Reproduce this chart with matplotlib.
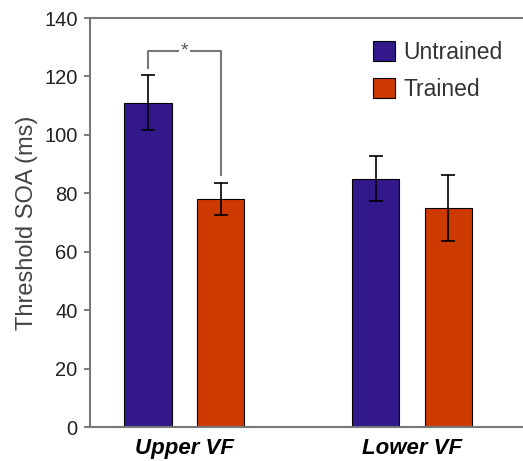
from matplotlib import pyplot as plt
import numpy as np

plt.rcParams['font.family'] = ['Liberation Sans', 'DejaVu Sans']

groups = ['Upper VF', 'Lower VF']
series = ['Untrained', 'Trained']
untrained = [111, 85]
untrained_err = [9.5, 7.7]
trained = [78, 75]
trained_err = [5.6, 11.2]
colors = ['#33188C', '#CC3A00']

x = np.arange(len(groups))
w = 0.207
off = 0.16

fig = plt.figure(figsize=(5.23, 4.61), dpi=100)
ax = fig.add_axes([90/523, 1 - 427/461, 433/523, 409/461])

ax.bar(x - off, untrained, w, color=colors[0], edgecolor='black', linewidth=0.8,
       label=series[0], zorder=2)
ax.bar(x + off, trained, w, color=colors[1], edgecolor='black', linewidth=0.8,
       label=series[1], zorder=2)
ax.errorbar(x - off, untrained, yerr=untrained_err, fmt='none', ecolor='black',
            elinewidth=1.2, capsize=5, capthick=1.2, zorder=3)
ax.errorbar(x + off, trained, yerr=trained_err, fmt='none', ecolor='black',
            elinewidth=1.2, capsize=5, capthick=1.2, zorder=3)

# significance bracket
bx = [x[0] - off, x[0] - off, x[0] + off, x[0] + off]
by = [123, 128.6, 128.6, 86.3]
ax.plot(bx, by, color='#777777', linewidth=1.5, zorder=1)
ax.text(x[0], 128.6, '*', ha='center', va='center', fontsize=14, color='#555555',
        bbox=dict(facecolor='white', edgecolor='none', pad=1))

ax.set_xlim(-0.415, 1.488)
ax.set_ylim(0, 140)
ax.set_yticks(range(0, 141, 20))
ax.set_xticks(x)
ax.set_xticklabels(groups, fontsize=16, fontweight='bold', style='italic')
ax.tick_params(axis='x', length=0, pad=8)
ax.tick_params(axis='y', length=4, width=1.2, color='#666666', labelsize=14.5,
               labelcolor='#222222', pad=5)
for s in ax.spines.values():
    s.set_color('#777777')
    s.set_linewidth(1.5)
ax.spines['right'].set_visible(False)
ax.set_ylabel('Threshold SOA (ms)', fontsize=17, color='#444444', labelpad=4)

ax.legend(loc='upper left', bbox_to_anchor=(373/523, 1 - 41/461),
          bbox_transform=fig.transFigure, frameon=False, borderpad=0,
          borderaxespad=0, fontsize=16.5, handlelength=0.96, handleheight=0.96,
          handletextpad=0.35, labelspacing=0.6, labelcolor='#333333')

plt.savefig('out.png', dpi=100)
